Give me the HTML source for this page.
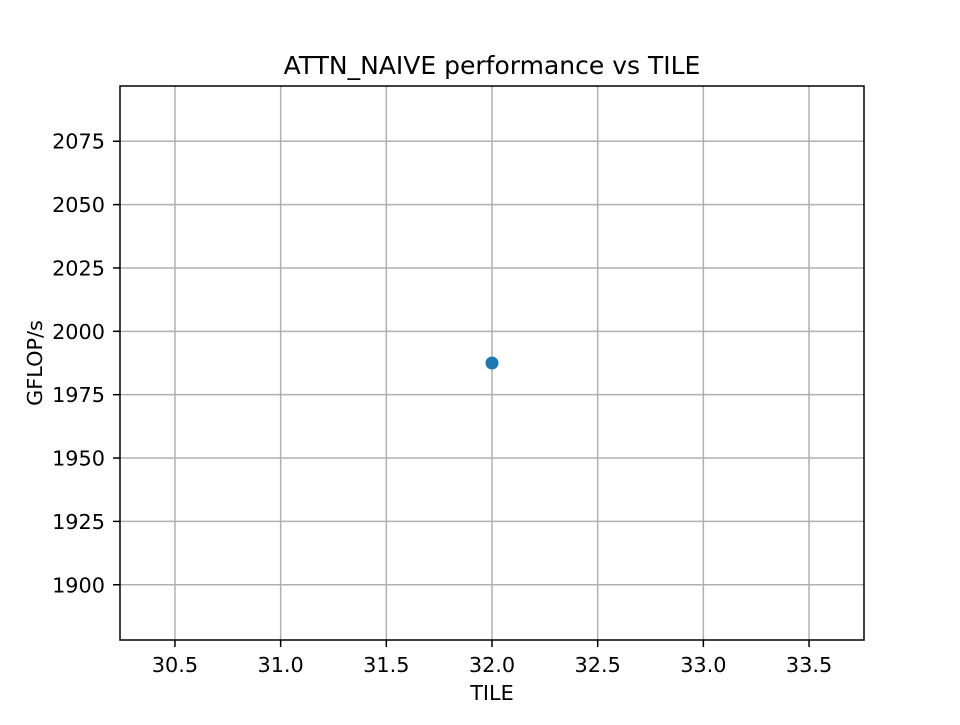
<!DOCTYPE html>
<html><head><meta charset="utf-8"><style>
body{margin:0;background:#fff;}
text{font-family:"DejaVu Sans","Liberation Sans",sans-serif;fill:#000;}
</style></head><body>
<svg id="chart" width="960" height="720" viewBox="0 0 960 720" xmlns="http://www.w3.org/2000/svg">
<rect width="960" height="720" fill="#fff"/>
<text x="492" y="74" font-size="25" text-anchor="middle">ATTN_NAIVE performance vs TILE</text>
<text x="492" y="700" font-size="20.8" text-anchor="middle">TILE</text>
<text x="0" y="0" font-size="20.8" text-anchor="middle" transform="translate(42,363) rotate(-90)">GFLOP/s</text>
<g id="grid"></g>
<g id="ticks"></g>
<g id="marks"></g>
<rect x="120" y="86" width="744" height="554" fill="none" stroke="#000" stroke-width="1.5"/>
</svg>
<script>
const tiles = [32];
const gflops = [1987.5];
const xTicks = [30.5, 31.0, 31.5, 32.0, 32.5, 33.0, 33.5];
const yTicks = [1900, 1925, 1950, 1975, 2000, 2025, 2050, 2075];
const X0=120,X1=864,Y0=640,Y1=86;
const xmin=30.24,xmax=33.76;
const ymin=gflops[0]-109.3,ymax=gflops[0]+109.3;
const xs=v=>X0+(v-xmin)/(xmax-xmin)*(X1-X0);
const ys=v=>Y0-(v-ymin)/(ymax-ymin)*(Y0-Y1);
const NS='http://www.w3.org/2000/svg';
const grid=document.getElementById('grid'),ticks=document.getElementById('ticks'),marks=document.getElementById('marks');
function mk(tag,attrs,parent){const e=document.createElementNS(NS,tag);for(const k in attrs)e.setAttribute(k,attrs[k]);parent.appendChild(e);return e;}
xTicks.forEach(t=>{const x=xs(t);
 const g=mk('line',{x1:x,x2:x,y1:Y1,y2:Y0,stroke:'#b0b0b0','stroke-width':1.5},grid);
 
 
 const tk=mk('line',{x1:x,x2:x,y1:Y0,y2:Y0+7,stroke:'#000','stroke-width':1.5},ticks);
 
 
 const lb=mk('text',{x:x,y:Y0+32,'font-size':20.8,'text-anchor':'middle'},ticks);lb.textContent=t.toFixed(1);
 
 
});
yTicks.forEach(t=>{const y=ys(t);
 const g=mk('line',{x1:X0,x2:X1,y1:y,y2:y,stroke:'#b0b0b0','stroke-width':1.5},grid);
 
 
 const tk=mk('line',{x1:X0-7,x2:X0,y1:y,y2:y,stroke:'#000','stroke-width':1.5},ticks);
 
 
 const lb=mk('text',{x:X0-15,y:y+7.5,'font-size':20.8,'text-anchor':'end'},ticks);lb.textContent=t;
 
 
});
tiles.forEach((t,i)=>{
 const c=mk('circle',{cx:xs(t),cy:ys(gflops[i]),r:6.5,fill:'#1f77b4'},marks);
 
 
});
</script>
</body></html>
